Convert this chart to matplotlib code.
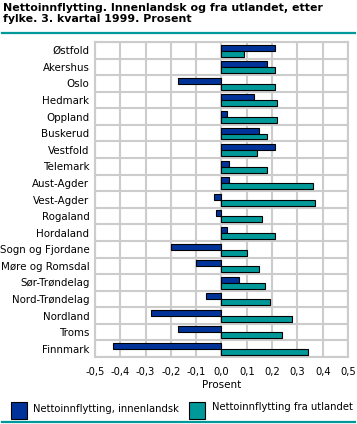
import matplotlib
matplotlib.use("Agg")
import matplotlib.pyplot as plt
from matplotlib.patches import Rectangle
from matplotlib.lines import Line2D
import numpy as np

categories = ["Østfold", "Akershus", "Oslo", "Hedmark", "Oppland", "Buskerud",
              "Vestfold", "Telemark", "Aust-Agder", "Vest-Agder", "Rogaland",
              "Hordaland", "Sogn og Fjordane", "Møre og Romsdal", "Sør-Trøndelag",
              "Nord-Trøndelag", "Nordland", "Troms", "Finnmark"]
innenlandsk = [0.21, 0.18, -0.17, 0.13, 0.02, 0.15, 0.21, 0.03, 0.03, -0.03,
               -0.02, 0.02, -0.20, -0.10, 0.07, -0.06, -0.28, -0.17, -0.43]
utlandet = [0.09, 0.21, 0.21, 0.22, 0.22, 0.18, 0.14, 0.18, 0.36, 0.37,
            0.16, 0.21, 0.10, 0.15, 0.17, 0.19, 0.28, 0.24, 0.34]
xticks = [-0.5, -0.4, -0.3, -0.2, -0.1, 0.0, 0.1, 0.2, 0.3, 0.4, 0.5]
xticklabels = ["-0,5", "-0,4", "-0,3", "-0,2", "-0,1", "0,0", "0,1", "0,2", "0,3", "0,4", "0,5"]
series_names = ["Nettoinnflytting, innenlandsk", "Nettoinnflytting fra utlandet"]
title = "Nettoinnflytting. Innenlandsk og fra utlandet, etter\nfylke. 3. kvartal 1999. Prosent"

BLUE = "#003399"
TEAL = "#009999"
GRID = "#cccccc"
W, H = 357, 424
plt.rcParams['font.family'] = ['DejaVu Sans']

fig = plt.figure(figsize=(W / 100, H / 100), dpi=100)

def fx(px):
    return px / W

def fy(py):
    return 1 - py / H

ax = fig.add_axes([fx(95), fy(357), fx(348) - fx(95), fy(42) - fy(357)])
y = np.arange(len(categories))
bh = 0.36
ax.barh(y - bh / 2 + 0.02, innenlandsk, height=bh, color=BLUE, edgecolor="black", linewidth=0.8, zorder=3)
ax.barh(y + bh / 2 + 0.02, utlandet, height=bh, color=TEAL, edgecolor="black", linewidth=0.8, zorder=3)
ax.set_xlim(-0.5, 0.5)
ax.set_ylim(len(categories) - 0.5, -0.5)
ax.set_xticks(xticks)
ax.set_xticklabels(xticklabels, fontsize=7.2)
ax.set_yticks(y)
ax.set_yticklabels(categories, fontsize=7.4)
ax.set_yticks(np.arange(len(categories) + 1) - 0.5, minor=True)
ax.tick_params(axis="both", which="both", length=0)
ax.tick_params(axis="x", pad=7)
ax.tick_params(axis="y", pad=4)
ax.grid(True, axis="x", which="major", color=GRID, linewidth=1.5, zorder=0)
ax.grid(True, axis="y", which="minor", color=GRID, linewidth=1.5, zorder=0)
for s in ax.spines.values():
    s.set_color(GRID)
    s.set_linewidth(1.5)
ax.set_xlabel("Prosent", fontsize=7.5, labelpad=2)

fig.text(fx(3), fy(3), title, fontsize=7.9, fontweight="bold", va="top", ha="left", linespacing=1.1)
fig.add_artist(Line2D([fx(2), fx(355)], [fy(33), fy(33)], color=TEAL, linewidth=1.6))
fig.add_artist(Line2D([fx(2), fx(355)], [fy(422), fy(422)], color=TEAL, linewidth=1.6))

fig.add_artist(Rectangle((fx(11), fy(419)), fx(16), fy(402) - fy(419), facecolor=BLUE, edgecolor="black", linewidth=0.8))
fig.text(fx(33), fy(409), series_names[0], fontsize=7.2, va="center", ha="left")
fig.add_artist(Rectangle((fx(189), fy(419)), fx(16), fy(402) - fy(419), facecolor=TEAL, edgecolor="black", linewidth=0.8))
fig.text(fx(212), fy(407), series_names[1], fontsize=7.2, va="center", ha="left")

fig.savefig("out.png", dpi=100)
